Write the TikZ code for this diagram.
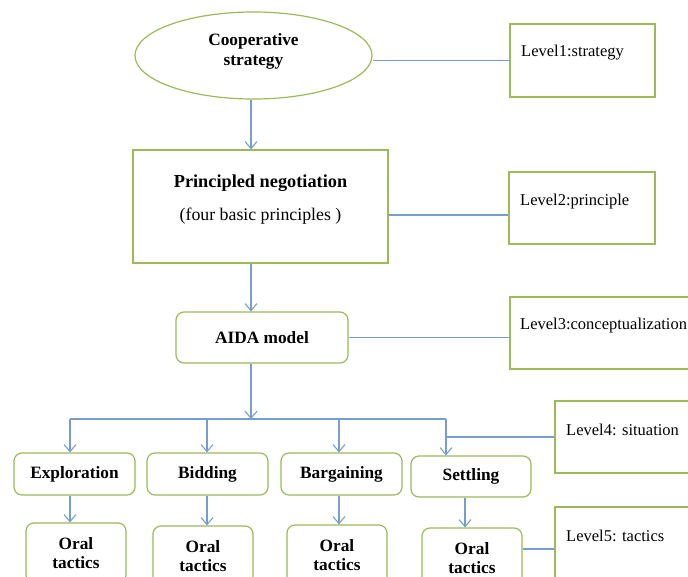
\documentclass[tikz,border=0pt]{standalone}
\usepackage{fontspec}
\setmainfont{Liberation Serif}
\usetikzlibrary{shapes.geometric,arrows.meta,calc}
\definecolor{gborder}{RGB}{155,187,89}
\definecolor{bline}{RGB}{118,158,205}
\begin{document}
\begin{tikzpicture}[x=1pt,y=-1pt,
  every node/.style={font=\fontsize{16.5}{19.5}\selectfont},
  conn/.style={draw=bline,line width=1.1pt},
  arr/.style={conn,-{Straight Barb[length=7pt,width=12pt]}},
  lvlbox/.style={draw=gborder,line width=1.3pt,minimum width=145,minimum height=73,inner sep=0pt},
  lvltext/.style={anchor=west,inner sep=0pt,font=\fontsize{16.5}{19.5}\selectfont},
  rbox/.style={draw=gborder,line width=1.2pt,rounded corners=8pt,inner sep=0pt,align=center,font=\fontsize{17.3}{19.5}\selectfont\bfseries},
  stagebox/.style={rbox,minimum width=121,minimum height=42},
  oralbox/.style={rbox,minimum width=100,minimum height=60},
]
\useasboundingbox (0,0) rectangle (688,576);
\clip (0,0) rectangle (688,576);
\fill[white] (0,0) rectangle (688,576);

% main column
\node[ellipse,draw=gborder,line width=1.2pt,minimum width=237,minimum height=87,inner sep=0pt,align=center,text depth=12pt,font=\fontsize{17.3}{20}\selectfont\bfseries] (ell) at (253.5,55.5) {Cooperative\\strategy};
\node[draw=gborder,line width=1.3pt,minimum width=255,minimum height=113,inner sep=0pt,align=center,text depth=18pt] (pn) at (260.5,206.5) {{\fontsize{18.3}{20}\selectfont\bfseries Principled negotiation}\\[14pt]{\fontsize{17.8}{20}\selectfont (four basic principles )}};
\node[rbox,minimum width=172,minimum height=51] (aida) at (262,337.5) {AIDA model};

% stages
\node[stagebox] (ex) at (74.5,474) {Exploration};
\node[stagebox] (bid) at (207.5,474) {Bidding};
\node[stagebox] (bar) at (341.5,474) {Bargaining};
\node[stagebox,minimum width=120,minimum height=41] (set) at (471,476.5) {Settling};

% oral tactics
\node[oralbox] (oe) at (76,553) {Oral\\tactics};
\node[oralbox] (ob) at (203,556) {Oral\\tactics};
\node[oralbox] (oba) at (337,555) {Oral\\tactics};
\node[oralbox] (os) at (472,558) {Oral\\tactics};

% level boxes
\node[lvlbox] (l1) at (582.5,60.5) {};
\node[lvltext] (t1) at (521,53) {Level1:strategy};
\node[lvlbox,minimum width=146,minimum height=72] (l2) at (582,208) {};
\node[lvltext] (t2) at (520,202) {Level2:principle};
\node[lvlbox,minimum width=190,minimum height=72] (l3) at (605,333) {};
\node[lvltext] (t3) at (520,326) {Level3:conceptualization};
\node[lvlbox,minimum height=72] (l4) at (627.5,437) {};
\node[lvltext] (t4) at (566,430) {Level4: situation};
\node[lvlbox] (l5) at (627.5,543.5) {};
\node[lvltext] (t5) at (566,536) {Level5: tactics};

% helper coordinates
\coordinate (ax) at (251,0);
\coordinate (c1) at (70,419);
\coordinate (c2) at (207,419);
\coordinate (c3) at (339,419);
\coordinate (c4) at (446,419);
\coordinate (c5) at (465,0);

% connectors
\draw[conn] (l1.west) -- (l1.west -| ell.east);
\draw[arr] (ell.south -| ax) -- (pn.north -| ax);
\draw[conn] ($(pn.east)+(0,8.5)$) -- ($(pn.east -| l2.west)+(0,8.5)$);
\draw[arr] (pn.south -| ax) -- (aida.north -| ax);
\draw[conn] (aida.east) -- (aida.east -| l3.west);
\draw[arr] (aida.south -| ax) -- (ax |- c1);
\draw[conn] (c1) -- (c4);
\draw[arr] (c1) -- (c1 |- ex.north);
\draw[arr] (c2) -- (c2 |- bid.north);
\draw[arr] (c3) -- (c3 |- bar.north);
\draw[arr] (c4) -- (c4 |- set.north);
\draw[conn] (l4.west) -- (l4.west -| c4);
\draw[arr] (ex.south -| c1) -- (c1 |- oe.north);
\draw[arr] (bid.south -| c2) -- (c2 |- ob.north);
\draw[arr] (bar.south -| c3) -- (c3 |- oba.north);
\draw[arr] (set.south -| c5) -- (c5 |- os.north);
\draw[conn] ($(os.east)+(0,-9)$) -- ($(os.east -| l5.west)+(0,-9)$);
\end{tikzpicture}
\end{document}
